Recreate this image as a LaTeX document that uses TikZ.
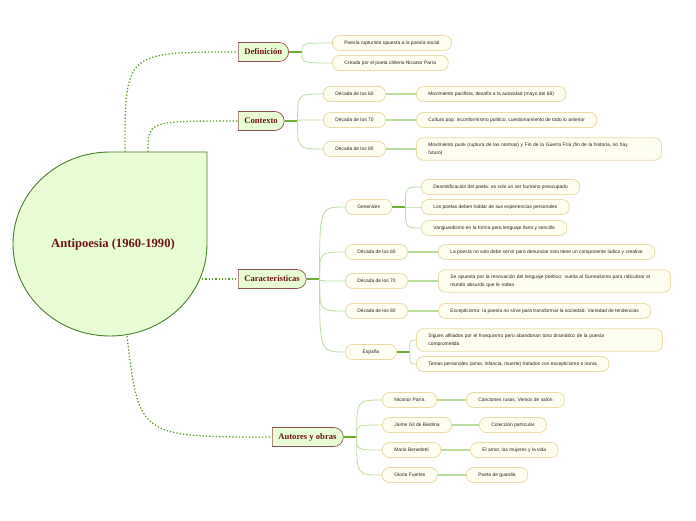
\documentclass[tikz,border=0pt]{standalone}
\usepackage{fontspec}
\setmainfont{Liberation Serif}
\setsansfont{Liberation Sans}
\usepackage{tikz}
\usetikzlibrary{shapes.misc,shapes.geometric,calc}
\definecolor{rootfill}{HTML}{E8FDD5}
\definecolor{rootline}{HTML}{4B7F2B}
\definecolor{mainline}{HTML}{8E5252}
\definecolor{maintext}{HTML}{6E1616}
\definecolor{leaffill}{HTML}{FEFEF0}
\definecolor{leafline}{HTML}{E9DCA8}
\definecolor{leaftext}{HTML}{2E2222}
\definecolor{dotgreen}{HTML}{5C9E22}
\definecolor{stemgreen}{HTML}{6FAE35}
\definecolor{twiggreen}{HTML}{BBDDA0}

\begin{document}
\begin{tikzpicture}[x=1pt,y=-1pt,
  mainbox/.style={draw=mainline,fill=rootfill,rounded rectangle,rounded rectangle left arc=none,
    minimum height=19pt,inner xsep=6pt,anchor=west,text=maintext,line width=0.7pt,
    font=\fontsize{8.6}{10}\selectfont\bfseries},
  leafbox/.style={draw=leafline,fill=leaffill,rounded corners=7pt,minimum height=15pt,
    inner xsep=12pt,inner ysep=5pt,anchor=west,align=left,text=leaftext,line width=0.8pt,
    font=\sffamily\fontsize{4.9}{8}\selectfont},
  dotlink/.style={dotgreen,line width=1.3pt,dotted},
  stem/.style={stemgreen,line width=1.2pt},
  twig/.style={twiggreen,line width=0.8pt},
  bar/.style={twiggreen,line width=1.3pt}]
  \useasboundingbox (0,0) rectangle (696,520);
  \fill[white] (0,0) rectangle (696,520);

  % central drop
  \filldraw[fill=rootfill,draw=rootline,line width=0.9pt] (207,152) -- (207,244)
    arc[start angle=0,end angle=270,x radius=97,y radius=92] -- cycle;
  \node[ellipse,minimum width=194pt,minimum height=184pt,inner sep=0pt,text=maintext,
    font=\fontsize{12.6}{14}\selectfont\bfseries] (root) at (113,244) {Antipoesia (1960-1990)};

  % main topics
  \node[mainbox] (defi) at (238,52) {Definición};
  \node[mainbox] (ctx) at (238,121) {Contexto};
  \node[mainbox] (feat) at (238,279) {Características};
  \node[mainbox] (auth) at (272,437) {Autores y obras};

  \coordinate (r1) at ($(root.north)+(12,0)$);
  \coordinate (r2) at ($(root.north)+(35,0)$);
  \coordinate (r4) at ($(root.south)+(14,0)$);
  \draw[dotlink] (r1) .. controls (r1|-defi.west) .. (defi.west);
  \draw[dotlink] (r2) .. controls (r2|-ctx.west) .. (ctx.west);
  \draw[dotlink] (202,279) -- (feat.west);
  \draw[dotlink] (r4) .. controls ($(r4|-auth.west)+(12,0)$) .. (auth.west);

  % Definicion
  \node[leafbox] (defa) at (332,43) {Poesía rupturista opuesta a la poesía social};
  \node[leafbox] (defb) at (332,63) {Creada por el poeta chileno Nicanor Parra};

  % Contexto
  \node[leafbox] (c60) at (323,94) {Década de los 60};
  \node[leafbox] (c70) at (323,120) {Década de los 70};
  \node[leafbox] (c80) at (323,149) {Década de los 80};
  \node[leafbox] (c60t) at (416,94) {Movimiento pacifista, desafío a la autoridad (mayo del 68)};
  \node[leafbox] (c70t) at (416,120) {Cultura pop: inconformismo político, cuestionamiento de todo lo anterior};
  \node[leafbox,text width=221pt] (c80t) at (416,149) {Movimiento punk (ruptura de las normas) y Fin de la Guerra Fría (fin de la historia, no hay\\futuro)};

  % Caracteristicas
  \node[leafbox] (gen) at (345,207) {Generales};
  \node[leafbox] (gena) at (421,187) {Desmitificación del poeta: es solo un ser humano preocupado};
  \node[leafbox] (genb) at (421,207) {Los poetas deben hablar de sus experiencias personales};
  \node[leafbox] (genc) at (421,228) {Vanguardismo en la forma pero lenguaje llano y sencillo};
  \node[leafbox] (f60) at (345,252) {Década de los 60};
  \node[leafbox] (f60t) at (438,252) {La poesía no solo debe servir para denunciar sino tiene un componente lúdico y creativo};
  \node[leafbox] (f70) at (345,281) {Década de los 70};
  \node[leafbox,text width=208pt] (f70t) at (438,281) {Se apuesta por la renovación del lenguaje poético: vuelta al Surrealismo para ridiculizar el\\mundo absurdo que le rodea};
  \node[leafbox] (f80) at (345,311) {Década de los 80};
  \node[leafbox] (f80t) at (438,311) {Escepticismo: la poesía no sirve para transformar la sociedad. Variedad de tendencias};
  \node[leafbox,minimum width=51pt] (esp) at (345,352) {España};
  \node[leafbox,text width=222pt] (espa) at (416,340) {Siguen afiliados por el franquismo pero abandonan tono dramático de la poesía\\comprometida};
  \node[leafbox] (espb) at (416,364) {Temas personales (amor, infancia, muerte) tratados con escepticismo e ironía};

  % Autores
  \node[leafbox] (parra) at (382,400) {Nicanor Parra};
  \node[leafbox] (parrat) at (466,400) {Canciones rusas, Versos de salón};
  \node[leafbox] (gil) at (382,425) {Jaime Gil de Biedma};
  \node[leafbox] (gilt) at (479,425) {Colección particular};
  \node[leafbox] (bene) at (382,450) {Mario Benedetti};
  \node[leafbox] (benet) at (470,450) {El amor, las mujeres y la vida};
  \node[leafbox] (fuer) at (382,475) {Gloria Fuertes};
  \node[leafbox] (fuert) at (466,475) {Poeta de guardia};

  % branches
  \foreach \p/\kids in {defi/{defa,defb},ctx/{c60,c70,c80},feat/{gen,f60,f70,f80,esp},
      gen/{gena,genb,genc},esp/{espa,espb},auth/{parra,gil,bene,fuer}}{
    \coordinate (\p k) at ($(\p.east)+(13,0)$);
    \draw[stem] (\p.east) -- (\p k);
    \foreach \n in \kids
      \draw[twig] (\p k) .. controls (\p k|-\n.west) .. (\n.west);
  }
  \foreach \a/\b in {c60/c60t,c70/c70t,c80/c80t,f60/f60t,f70/f70t,f80/f80t,
      parra/parrat,gil/gilt,bene/benet,fuer/fuert}
    \draw[bar] (\a.east) -- (\b.west);
\end{tikzpicture}
\end{document}
